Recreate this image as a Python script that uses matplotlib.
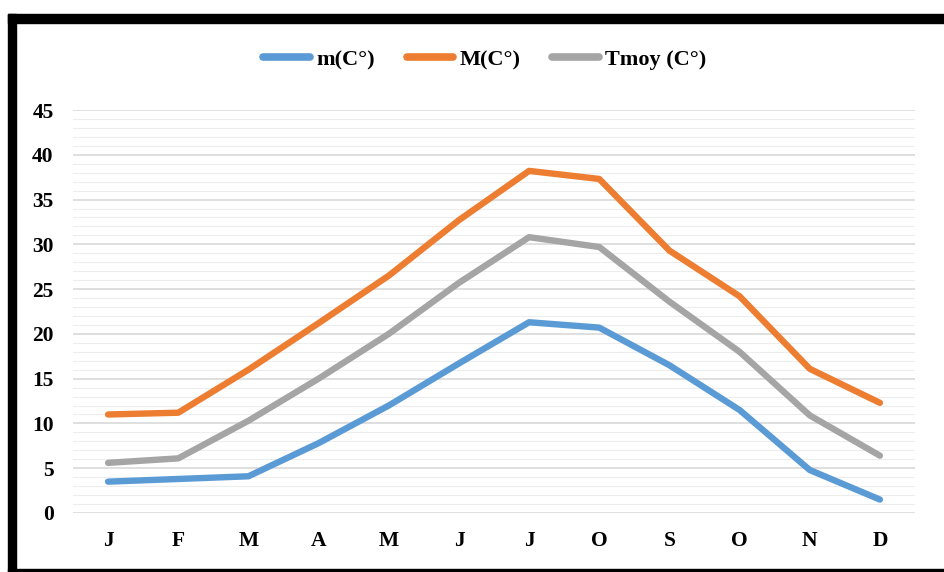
import matplotlib
matplotlib.use("Agg")
import matplotlib.pyplot as plt
from matplotlib.patches import Rectangle
import numpy as np

months = ["J", "F", "M", "A", "M", "J", "J", "O", "S", "O", "N", "D"]
m_min = [3.5, 3.8, 4.1, 7.8, 12.0, 16.7, 21.3, 20.7, 16.5, 11.5, 4.8, 1.5]
m_max = [11.0, 11.2, 16.0, 21.2, 26.5, 32.7, 38.2, 37.3, 29.3, 24.2, 16.1, 12.3]
t_moy = [5.6, 6.1, 10.3, 15.0, 20.0, 25.7, 30.8, 29.7, 23.6, 18.0, 10.9, 6.4]
labels = ["m(C°)", "M(C°)", "Tmoy (C°)"]
colors = ["#5B9BD5", "#ED7D31", "#A5A5A5"]
yticks = [0, 5, 10, 15, 20, 25, 30, 35, 40, 45]

plt.rcParams['font.family'] = ['Liberation Serif', 'DejaVu Serif']

fig = plt.figure(figsize=(9.44, 5.72), dpi=100)
W, H = 944, 572
ax = fig.add_axes([73 / W, 1 - 513 / H, (915 - 73) / W, (513 - 110) / H])

x = np.arange(len(months))
for ys, c, lab in zip([m_min, m_max, t_moy], colors, labels):
    ax.plot(x, ys, color=c, lw=4.6, label=lab, solid_capstyle='round', solid_joinstyle='round', zorder=3)

ax.set_xlim(-0.5, 11.5)
ax.set_ylim(0, 45)
ax.set_yticks(yticks)
ax.set_yticks(np.arange(0, 46, 1), minor=True)
ax.set_xticks(x)
ax.set_xticklabels(months)
ax.grid(axis='y', which='major', color='#D9D9D9', lw=1.2, zorder=0)
ax.grid(axis='y', which='minor', color='#EDEDED', lw=0.8, zorder=0)
ax.tick_params(axis='both', which='both', length=0)
ax.tick_params(axis='y', pad=14, labelsize=15.5)
ax.tick_params(axis='x', pad=13, labelsize=15.5)
for lbl in ax.get_xticklabels() + ax.get_yticklabels():
    lbl.set_fontweight('bold')
for s in ax.spines.values():
    s.set_visible(False)

leg = fig.legend(loc='center', bbox_to_anchor=(485 / W, 1 - 60 / H), ncol=3, frameon=False,
                 prop={'weight': 'bold', 'size': 16}, handlelength=2.1, handletextpad=0.3,
                 columnspacing=1.4)
for h in leg.get_lines():
    h.set_linewidth(5.5)

# black frame
fig.patches.append(Rectangle((8 / W, 1 - 23 / H), (W - 8) / W, 9 / H, transform=fig.transFigure,
                             color='black', zorder=10))
fig.patches.append(Rectangle((8 / W, 0), 8 / W, 1 - 14 / H, transform=fig.transFigure,
                             color='black', zorder=10))
fig.patches.append(Rectangle((8 / W, 1 / H), (W - 8) / W, 2 / H, transform=fig.transFigure,
                             color='black', zorder=10))

fig.savefig("out.png", dpi=100)
